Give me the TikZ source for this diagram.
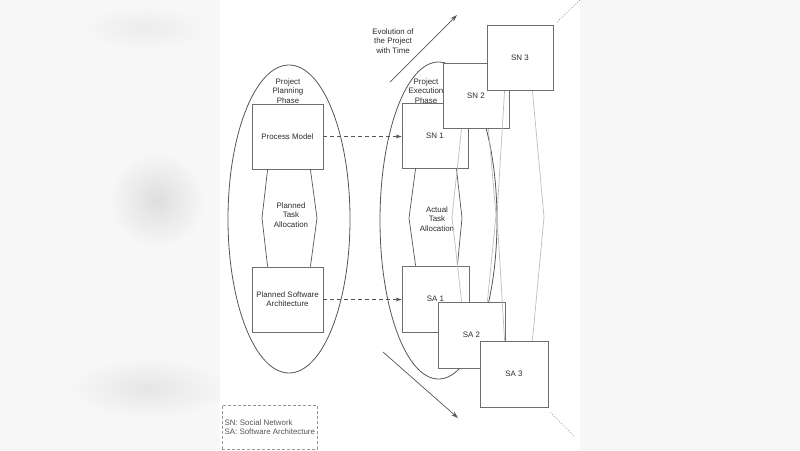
\documentclass[tikz,border=0pt]{standalone}
\usepackage{fontspec}
\setmainfont{Liberation Sans}
\usetikzlibrary{shapes.geometric,arrows.meta,calc}
\definecolor{bgside}{RGB}{247,247,247}
\definecolor{blob}{RGB}{222,222,222}
\definecolor{txt}{RGB}{45,45,45}
\definecolor{boxcol}{RGB}{110,110,110}
\definecolor{darkl}{RGB}{85,85,85}
\definecolor{lightl}{RGB}{190,190,190}
\definecolor{legcol}{RGB}{150,150,150}
\definecolor{legtxt}{RGB}{85,85,85}
\pgfdeclarelayer{bgl}
\pgfdeclarelayer{lA}
\pgfdeclarelayer{lB}
\pgfdeclarelayer{lC}
\pgfdeclarelayer{lD}
\pgfdeclarelayer{lE}
\pgfsetlayers{bgl,lA,lB,lC,lD,lE,main}
\begin{document}
\begin{tikzpicture}[x=1pt,y=-1pt,
  every node/.style={font=\fontsize{7.9}{9.3}\selectfont, text=txt},
  box/.style={draw=boxcol, line width=0.8pt, fill=white, minimum width=66pt, minimum height=65pt, inner sep=0pt},
  phase/.style={draw=darkl, line width=0.8pt, ellipse, inner sep=0pt},
  lbl/.style={align=center, inner sep=0pt},
  hexd/.style={draw=darkl, line width=0.7pt},
  hexl/.style={draw=lightl, line width=0.7pt},
  dasharrow/.style={draw=darkl, line width=0.7pt, dash pattern=on 4pt off 3pt, -{Stealth[length=6pt,width=4pt]}},
  evo/.style={draw=darkl, line width=0.7pt, -{Stealth[length=7pt,width=4.5pt]}},
  dotl/.style={draw=legcol, line width=0.6pt, dash pattern=on 1pt off 1.5pt},
  legend/.style={draw=legcol, line width=0.6pt, dash pattern=on 3pt off 2pt, align=left, inner xsep=1pt, minimum width=95pt, minimum height=44pt, text=legtxt}
]
\useasboundingbox (0,0) rectangle (800,450);
\begin{pgfonlayer}{bgl}
\fill[bgside] (0,0) rectangle (800,450);
\shade[inner color=blob, outer color=bgside] (157,200) circle (48pt);
\shade[inner color=blob!70!bgside, outer color=bgside] (148,388) ellipse [x radius=80pt, y radius=30pt];
\shade[inner color=blob!45!bgside, outer color=bgside] (145,28) ellipse [x radius=65pt, y radius=22pt];
\fill[white] (220,0) rectangle (580,450);
\end{pgfonlayer}

\begin{pgfonlayer}{lA}
% phase ellipses
\node[phase, minimum width=122pt, minimum height=308pt] (plan) at (289,219) {};
\node[phase, minimum width=117pt, minimum height=317pt] (exec) at (438.5,220.5) {};
\node[lbl] (plantxt) at (288,91) {Project\\Planning\\Phase};
\node[lbl] (exectxt) at (426,91) {Project\\Execution\\Phase};
% planning boxes
\node[box, minimum width=71pt] (pm) at (287.5,136.5) {Process Model};
\node[box, minimum width=71pt, align=center] (psa) at (287.5,299.5) {Planned Software\\Architecture};
\coordinate (pv1) at (262,218);
\coordinate (pv2) at (317,218);
\draw[hexd] ($(pm.south west)+(16,0)$) -- (pv1) -- ($(psa.north west)+(16,0)$);
\draw[hexd] ($(pm.south east)+(-13,0)$) -- (pv2) -- ($(psa.north east)+(-13,0)$);
\node[lbl] (ptask) at (291,215) {Planned\\Task\\Allocation};
% execution first generation
\node[box] (sn1) at (435,135.5) {SN 1};
\node[box, minimum width=67pt, minimum height=66pt] (sa1) at (435.5,299) {SA 1};
\coordinate (av1) at (409,218);
\coordinate (av2) at (462,218);
\draw[hexd] ($(sn1.south west)+(14,0)$) -- (av1) -- ($(sa1.north west)+(14,0)$);
\draw[hexd] ($(sn1.south east)+(-12,0)$) -- (av2) -- ($(sa1.north east)+(-12,0)$);
\node[lbl] (atask) at (437,219) {Actual\\Task\\Allocation};
\draw[dasharrow] (pm.east) -- (pm.east -| sn1.west);
\draw[dasharrow] (psa.east) -- (psa.east -| sa1.west);
% evolution arrows
\coordinate (e1s) at (390,82);
\coordinate (e1e) at (457,15);
\coordinate (e2s) at (383,352);
\coordinate (e2e) at (458,418);
\draw[evo] (e1s) -- (e1e);
\draw[evo] (e2s) -- (e2e);
\node[lbl] (evotxt) at (393,41) {Evolution of\\the Project\\with Time};
% legend
\node[legend, anchor=north west] (leg) at (222,405) {SN: Social Network\\SA: Software Architecture};
\end{pgfonlayer}

\begin{pgfonlayer}{lC}
\node[box] (sn2) at (476,95.5) {SN 2};
\node[box, minimum width=67pt, minimum height=66pt] (sa2) at (471.5,335) {SA 2};
\end{pgfonlayer}
\begin{pgfonlayer}{lB}
\coordinate (bv1) at (452,217);
\coordinate (bv2) at (496,215);
\draw[hexl] ($(sn2.south west)+(19,0)$) -- (bv1) -- ($(sa2.north west)+(24,0)$);
\draw[hexl] ($(sn2.south east)+(-21,0)$) -- (bv2) -- ($(sa2.north east)+(-18,0)$);
\end{pgfonlayer}

\begin{pgfonlayer}{lE}
\node[box] (sn3) at (520,57.5) {SN 3};
\node[box, minimum width=68pt, minimum height=66pt] (sa3) at (514,374) {SA 3};
\coordinate (d1) at (580,0);
\coordinate (d2) at (574,436);
\draw[dotl] ($(sn3.north east)+(4,-3)$) -- (d1);
\draw[dotl] ($(sa3.south east)+(2,5)$) -- (d2);
\end{pgfonlayer}
\begin{pgfonlayer}{lD}
\coordinate (cv1) at (497,215);
\coordinate (cv2) at (544,217);
\draw[hexl] ($(sn3.south west)+(18,0)$) -- (cv1) -- ($(sa3.north west)+(25,0)$);
\draw[hexl] ($(sn3.south east)+(-21,0)$) -- (cv2) -- ($(sa3.north east)+(-16,0)$);
\end{pgfonlayer}
\end{tikzpicture}
\end{document}
